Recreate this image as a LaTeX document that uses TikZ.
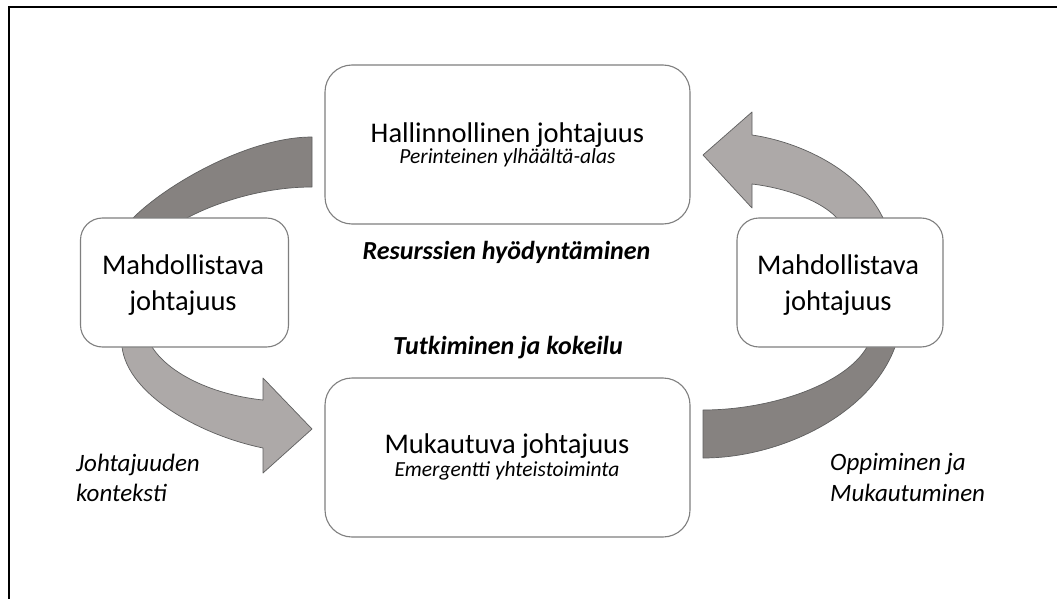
\documentclass[tikz,border=0pt]{standalone}
\usepackage{fontspec}
\setmainfont{Carlito}
\definecolor{bandDark}{HTML}{868280}
\definecolor{bandLight}{HTML}{ADA9A8}
\definecolor{boxGray}{HTML}{7F7F7F}
\definecolor{edgeGray}{HTML}{5F5F5F}
\begin{document}
\begin{tikzpicture}[x=1pt,y=-1pt,
  darkband/.style={fill=bandDark, draw=edgeGray, line width=0.7pt, line join=round},
  lightband/.style={fill=bandLight, draw=edgeGray, line width=0.7pt, line join=round},
  box/.style={draw=boxGray, line width=1.1pt, fill=white, rounded corners=#1, inner sep=0pt},
  maintxt/.style={inner sep=0pt, anchor=base, font=\fontsize{28.5}{34}\selectfont},
  subtxt/.style={inner sep=0pt, anchor=base, font=\fontsize{21.5}{26}\selectfont\itshape},
  boldlbl/.style={inner sep=0pt, anchor=base, font=\fontsize{26}{30}\selectfont\bfseries\itshape},
  sidelbl/.style={inner sep=0pt, anchor=base west, font=\fontsize{25}{30}\selectfont\itshape}]
\useasboundingbox (0,0) rectangle (1057,599);
\fill[white] (0,0) rectangle (1057,599);
% frame (left and top edges)
\draw[line width=2.2pt] (9,599) -- (9,7) -- (1057,7);
% bands and arrows
\filldraw[darkband] (118,236) -- (133,218) .. controls (168,183) and (250,137) .. (312,137)
  -- (312,187) .. controls (262,187) and (215,203) .. (187,218) -- (165,230) -- cycle;
\filldraw[lightband] (119,330) -- (122,347) .. controls (128,395) and (200,435) .. (263,448)
  -- (263,473) -- (312,429) -- (263,378) -- (263,400)
  .. controls (215,395) and (170,375) .. (152,347) -- (141,330) -- cycle;
\filldraw[lightband] (703,155) -- (752,112) -- (752,135) .. controls (800,142) and (860,170) .. (883,218)
  -- (890,235) -- (850,232) -- (837,218) .. controls (820,200) and (785,188) .. (752,184)
  -- (752,208) -- cycle;
\filldraw[darkband] (703,410) -- (703,458) .. controls (780,458) and (870,415) .. (895,347)
  -- (900,330) -- (877,330) -- (867,347) .. controls (845,385) and (770,410) .. (703,410) -- cycle;
% boxes
\node[box=27pt, minimum width=365pt, minimum height=159pt] (top) at (507.5,144.5) {};
\node[box=27pt, minimum width=365pt, minimum height=159pt] (bottom) at (507.5,457.5) {};
\node[box=22pt, minimum width=208pt, minimum height=129pt] (left) at (184.5,282.5) {};
\node[box=22pt, minimum width=206pt, minimum height=129pt] (right) at (840,282.5) {};
% texts
\node[maintxt] (topA) at (507.5,142.5) {Hallinnollinen johtajuus};
\node[subtxt] (topB) at (507.5,164) {Perinteinen ylhäältä-alas};
\node[maintxt] (botA) at (507,453.3) {Mukautuva johtajuus};
\node[subtxt] (botB) at (507,476.7) {Emergentti yhteistoiminta};
\node[maintxt] (leftA) at (183,274) {Mahdollistava};
\node[maintxt] (leftB) at (183,310) {johtajuus};
\node[maintxt] (rightA) at (838,274) {Mahdollistava};
\node[maintxt] (rightB) at (838,310) {johtajuus};
\node[boldlbl] (res) at (506.5,259.3) {Resurssien hyödyntäminen};
\node[boldlbl] (tut) at (508,354) {Tutkiminen ja kokeilu};
\node[sidelbl] (ctxA) at (76,471.7) {Johtajuuden};
\node[sidelbl] (ctxB) at (76,501.7) {konteksti};
\node[sidelbl] (oppA) at (830,470) {Oppiminen ja};
\node[sidelbl] (oppB) at (830,501.7) {Mukautuminen};
\end{tikzpicture}
\end{document}
